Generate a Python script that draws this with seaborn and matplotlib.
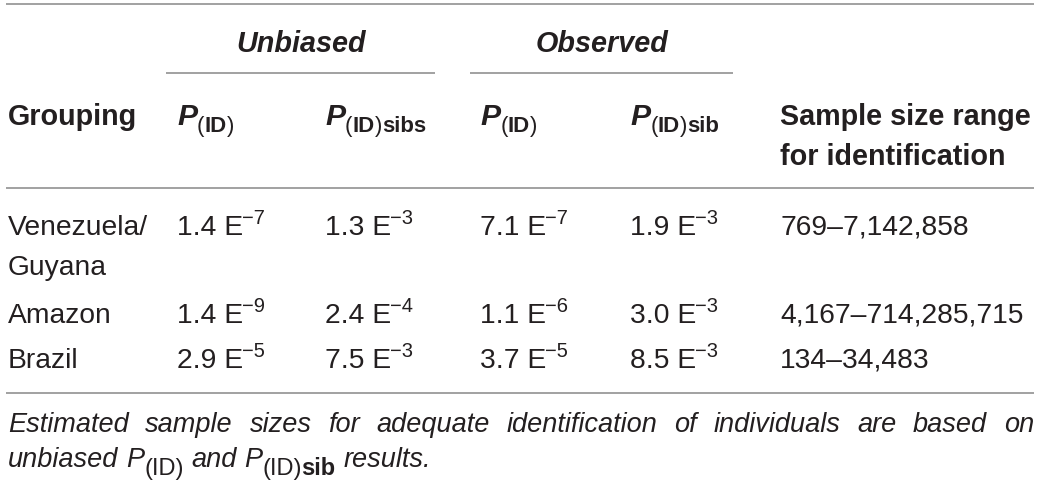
import matplotlib
matplotlib.use('Agg')
import matplotlib.pyplot as plt
import seaborn as sns

# table content
groupings = ['Venezuela/\nGuyana', 'Amazon', 'Brazil']
unbiased_pid_mant = [1.4, 1.4, 2.9]
unbiased_pid_exp = [-7, -9, -5]
unbiased_sib_mant = [1.3, 2.4, 7.5]
unbiased_sib_exp = [-3, -4, -3]
observed_pid_mant = [7.1, 1.1, 3.7]
observed_pid_exp = [-7, -6, -5]
observed_sib_mant = [1.9, 3.0, 8.5]
observed_sib_exp = [-3, -3, -3]
range_low = [769, 4167, 134]
range_high = [7142858, 714285715, 34483]

group_labels = ['Unbiased', 'Observed']
grouping_header = 'Grouping'
p_suffixes = ['', 'sibs', '', 'sib']
range_header = ['Sample size range', 'for identification']
footnote_1 = 'Estimated sample sizes for adequate identification of individuals are based on'

sns.set_theme(style='white')
plt.rcParams['font.family'] = ['Liberation Sans', 'DejaVu Sans']

ink = '#231f20'
rule = '#9a9a9a'
fs = 20.3
fs_head = 20.7
fs_foot = 19.5

fig = plt.figure(figsize=(10.4, 4.85), dpi=100)
ax = fig.add_axes([0, 0, 1, 1])
ax.set_xlim(0, 1040)
ax.set_ylim(485, 0)
ax.axis('off')
renderer = fig.canvas.get_renderer()

col_x = [8, 177, 325, 480, 630, 780]
row_y = [235, 323, 368]
line_gap = 40


def width_of(t):
    return t.get_window_extent(renderer).width


def space_width(**kw):
    a = ax.text(0, 0, 'x x', **kw)
    b = ax.text(0, 0, 'xx', **kw)
    w = width_of(a) - width_of(b)
    a.remove()
    b.remove()
    return w


def draw_runs(x, y, runs):
    # runs: (string, dy, pad_after, text kwargs)
    for s, dy, pad, kw in runs:
        t = ax.text(x, y + dy, s, ha='left', va='baseline', color=ink, **kw)
        x += width_of(t) + pad
    return x


def draw_sci(x, y, m, e):
    base = f'{m:.1f} E'
    draw_runs(x, y, [(base, 0, -1, dict(fontsize=fs)),
                     (f'\u2212{abs(e)}', -10.5, 0, dict(fontsize=14.5))])


# rules
for y in [5, 189, 394]:
    ax.plot([6, 1034], [y, y], color=rule, lw=1.3, solid_capstyle='butt')
ax.plot([166, 435], [74, 74], color=rule, lw=1.3, solid_capstyle='butt')
ax.plot([470, 733], [74, 74], color=rule, lw=1.3, solid_capstyle='butt')

# group headers
for lab, cx in zip(group_labels, [301, 602]):
    ax.text(cx, 52, lab, ha='center', va='baseline', fontsize=fs_head,
            fontweight='bold', fontstyle='italic', color=ink)

# column headers
ax.text(col_x[0], 125, grouping_header, ha='left', va='baseline',
        fontsize=fs_head, fontweight='bold', color=ink)
sub = 16
for suffix, x in zip(p_suffixes, col_x[1:5]):
    runs = [('P', 0, 0, dict(fontsize=fs_head + 1, fontweight='bold', fontstyle='italic')),
            ('(', 7, 0, dict(fontsize=sub)),
            ('ID', 7, 0, dict(fontsize=sub, fontweight='bold')),
            (')', 7, 0.5, dict(fontsize=sub))]
    if suffix:
        runs.append((suffix, 7, 0, dict(fontsize=sub, fontweight='bold')))
    draw_runs(x, 125, runs)
for i, part in enumerate(range_header):
    ax.text(col_x[5], 125 + i * 40, part, ha='left', va='baseline',
            fontsize=fs_head, fontweight='bold', color=ink)

# body
for val, y in zip(groupings, row_y):
    for i, part in enumerate(val.split('\n')):
        ax.text(col_x[0], y + i * line_gap, part, ha='left', va='baseline',
                fontsize=fs, color=ink)
sci_cols = [(unbiased_pid_mant, unbiased_pid_exp),
            (unbiased_sib_mant, unbiased_sib_exp),
            (observed_pid_mant, observed_pid_exp),
            (observed_sib_mant, observed_sib_exp)]
for (mants, exps), x in zip(sci_cols, col_x[1:5]):
    for m, e, y in zip(mants, exps, row_y):
        draw_sci(x, y, m, e)
for lo, hi, y in zip(range_low, range_high, row_y):
    ax.text(col_x[5], y, f'{lo:,}\u2013{hi:,}', ha='left', va='baseline',
            fontsize=fs, color=ink)

# footnote, first line justified
it = dict(fontsize=fs_foot, fontstyle='italic')
words = footnote_1.split()
texts = [ax.text(0, 432, w, ha='left', va='baseline', color=ink, **it) for w in words]
widths = [width_of(t) for t in texts]
gap = (1034 - 8 - sum(widths)) / (len(words) - 1)
x = 8
for t, w in zip(texts, widths):
    t.set_x(x)
    x += w + gap

sp = space_width(**it)
fsub = 17
draw_runs(8, 467, [
    ('unbiased', 0, sp, it),
    ('P', 0, 0, it),
    ('(ID)', 8, sp, dict(fontsize=fsub)),
    ('and', 0, sp, it),
    ('P', 0, 0, it),
    ('(ID)', 8, 0, dict(fontsize=fsub)),
    ('sib', 8, sp, dict(fontsize=fsub, fontweight='bold')),
    ('results.', 0, 0, it),
])

fig.savefig('out.png', dpi=100)
